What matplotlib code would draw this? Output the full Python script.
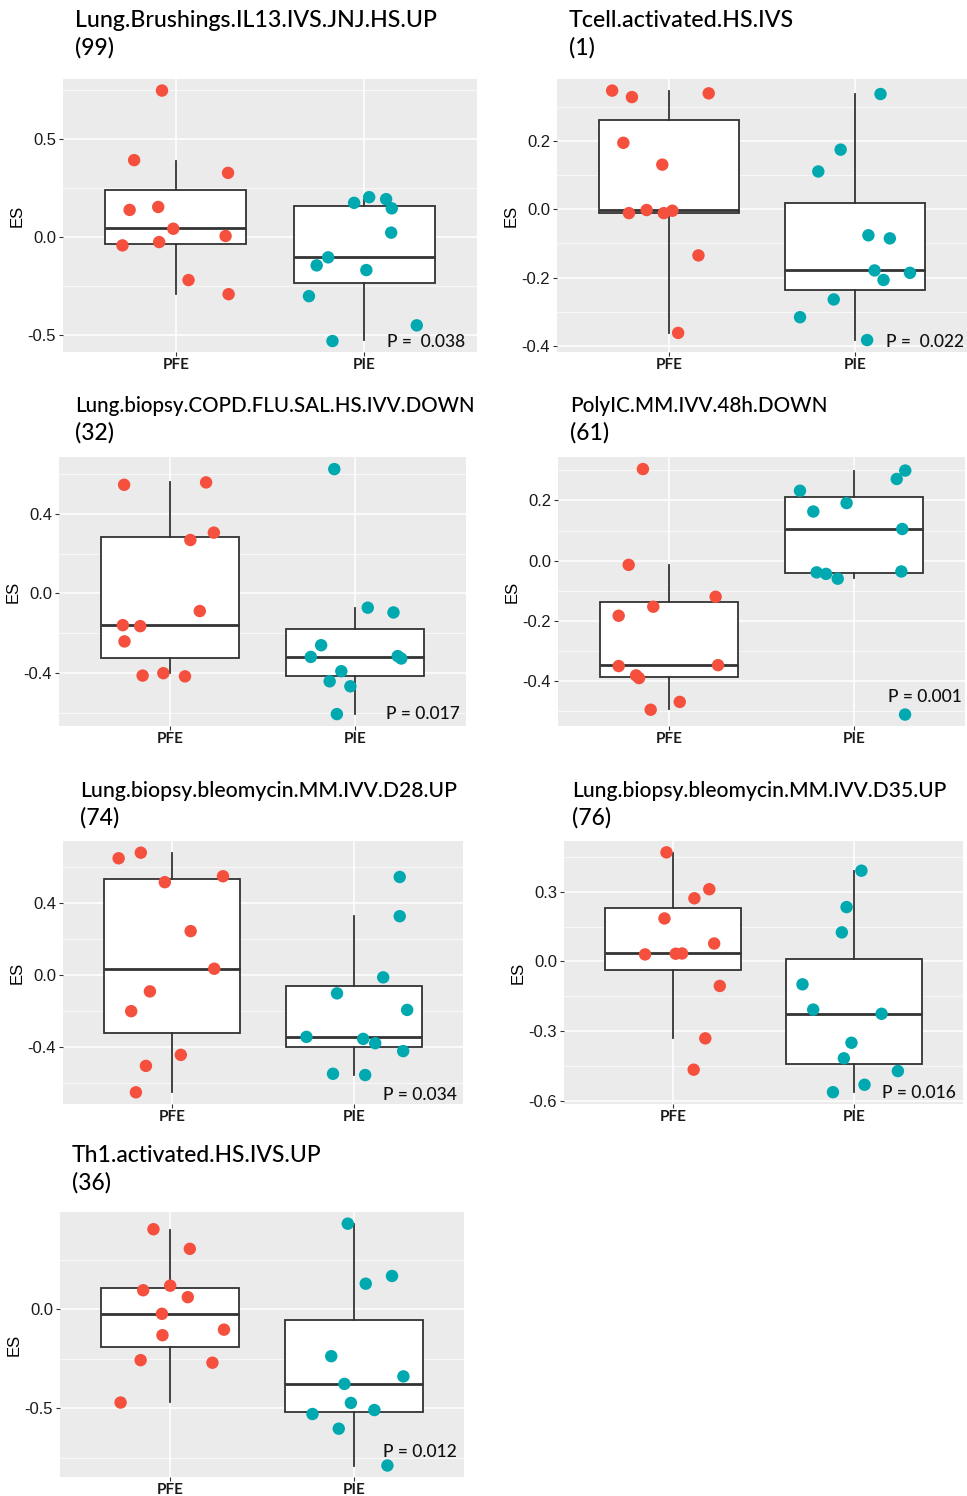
import numpy as np
import matplotlib
matplotlib.use('Agg')
import matplotlib.pyplot as plt

# 每個面板的資料
titles = ['Lung.Brushings.IL13.IVS.JNJ.HS.UP', 'Tcell.activated.HS.IVS',
          'Lung.biopsy.COPD.FLU.SAL.HS.IVV.DOWN', 'PolyIC.MM.IVV.48h.DOWN',
          'Lung.biopsy.bleomycin.MM.IVV.D28.UP', 'Lung.biopsy.bleomycin.MM.IVV.D35.UP',
          'Th1.activated.HS.IVS.UP']
sizes = [99, 1, 32, 61, 74, 76, 36]
p_text = ['P =  0.038', 'P =  0.022', 'P = 0.017', 'P = 0.001', 'P = 0.034', 'P = 0.016', 'P = 0.012']
groups = ['PFE', 'PIE']

pfe_es = [
    [0.749, 0.394, 0.329, 0.140, 0.155, 0.044, -0.041, -0.024, 0.007, -0.218, -0.290],
    [0.348, 0.329, 0.340, 0.195, 0.131, -0.011, -0.002, -0.011, -0.004, -0.135, -0.362],
    [0.547, 0.559, 0.306, 0.269, -0.089, -0.160, -0.165, -0.242, -0.414, -0.402, -0.418],
    [0.304, -0.014, -0.120, -0.153, -0.183, -0.350, -0.347, -0.381, -0.390, -0.469, -0.495],
    [0.649, 0.680, 0.516, 0.549, 0.244, 0.035, -0.091, -0.201, -0.444, -0.505, -0.652],
    [0.470, 0.311, 0.272, 0.185, 0.030, 0.033, 0.034, 0.077, -0.106, -0.332, -0.467],
    [0.405, 0.306, 0.120, 0.097, 0.062, -0.022, -0.130, -0.102, -0.256, -0.269, -0.470],
]
pfe_jit = [
    [-0.074, -0.222, 0.277, -0.246, -0.094, -0.014, -0.284, -0.089, 0.264, 0.067, 0.280],
    [-0.304, -0.198, 0.214, -0.244, -0.035, -0.214, -0.119, -0.027, 0.019, 0.159, 0.050],
    [-0.248, 0.195, 0.237, 0.110, 0.161, -0.255, -0.161, -0.246, -0.148, -0.036, 0.081],
    [-0.141, -0.218, 0.252, -0.085, -0.272, -0.272, 0.265, -0.178, -0.162, 0.058, -0.099],
    [-0.294, -0.172, -0.040, 0.280, 0.102, 0.232, -0.122, -0.225, 0.048, -0.144, -0.199],
    [-0.035, 0.201, 0.119, -0.046, -0.153, 0.016, 0.051, 0.228, 0.259, 0.179, 0.115],
    [-0.091, 0.107, 0.000, -0.147, 0.096, -0.045, -0.042, 0.293, -0.161, 0.230, -0.270],
]
pie_es = [
    [0.176, 0.205, 0.195, 0.148, 0.024, -0.102, -0.143, -0.167, -0.300, -0.449, -0.529],
    [0.338, 0.175, 0.111, -0.076, -0.085, -0.179, -0.207, -0.186, -0.264, -0.316, -0.383],
    [0.626, -0.072, -0.096, -0.261, -0.320, -0.316, -0.328, -0.392, -0.443, -0.468, -0.608],
    [0.299, 0.271, 0.232, 0.163, 0.191, 0.105, -0.039, -0.044, -0.060, -0.036, -0.511],
    [0.545, 0.327, -0.013, -0.102, -0.194, -0.344, -0.355, -0.379, -0.423, -0.549, -0.556],
    [0.391, 0.234, 0.125, -0.099, -0.208, -0.226, -0.351, -0.418, -0.473, -0.532, -0.564],
    [0.433, 0.130, 0.169, -0.236, -0.338, -0.376, -0.472, -0.508, -0.528, -0.602, -0.788],
]
pie_jit = [
    [-0.053, 0.027, 0.117, 0.147, 0.144, -0.191, -0.252, 0.012, -0.293, 0.280, -0.168],
    [0.136, -0.078, -0.198, 0.071, 0.186, 0.104, 0.152, 0.294, -0.115, -0.296, 0.064],
    [-0.112, 0.069, 0.208, -0.183, -0.239, 0.231, 0.250, -0.074, -0.137, -0.025, -0.098],
    [0.277, 0.231, -0.292, -0.220, -0.040, 0.261, -0.202, -0.151, -0.088, 0.256, 0.276],
    [0.252, 0.252, 0.161, -0.093, 0.293, -0.261, 0.051, 0.117, 0.271, -0.115, 0.062],
    [0.040, -0.042, -0.068, -0.285, -0.226, 0.151, -0.015, -0.057, 0.241, 0.057, -0.117],
    [-0.033, 0.065, 0.208, -0.123, 0.270, -0.051, -0.016, 0.112, -0.225, -0.082, 0.183],
]
# 盒子: [下鬚, Q1, 中位數, Q3, 上鬚]
pfe_box = [
    [-0.287, -0.034, 0.046, 0.242, 0.390],
    [-0.362, -0.010, -0.001, 0.262, 0.347],
    [-0.400, -0.323, -0.160, 0.286, 0.559],
    [-0.494, -0.385, -0.347, -0.138, -0.014],
    [-0.652, -0.323, 0.035, 0.532, 0.680],
    [-0.331, -0.037, 0.036, 0.229, 0.468],
    [-0.467, -0.191, -0.022, 0.107, 0.403],
]
pie_box = [
    [-0.526, -0.232, -0.099, 0.162, 0.191],
    [-0.383, -0.235, -0.179, 0.019, 0.337],
    [-0.606, -0.418, -0.322, -0.180, -0.072],
    [-0.059, -0.042, 0.105, 0.210, 0.299],
    [-0.555, -0.401, -0.342, -0.059, 0.329],
    [-0.564, -0.444, -0.229, 0.011, 0.390],
    [-0.788, -0.517, -0.375, -0.054, 0.431],
]
yticks = [[-0.5, 0.0, 0.5], [-0.4, -0.2, 0.0, 0.2], [-0.4, 0.0, 0.4], [-0.4, -0.2, 0.0, 0.2],
          [-0.4, 0.0, 0.4], [-0.6, -0.3, 0.0, 0.3], [-0.5, 0.0]]
ylims = [(-0.585, 0.808), (-0.418, 0.382), (-0.668, 0.687), (-0.549, 0.344),
         (-0.717, 0.745), (-0.615, 0.519), (-0.846, 0.492)]

# 版面 (像素)
W, H = 967, 1496
ax_px = [(63, 79, 477, 352), (557, 79, 967, 352), (59, 457, 466, 726), (558, 457, 965, 726),
         (63, 841, 463, 1104), (564, 841, 963, 1104), (60, 1212, 464, 1477)]
title_px = [(75, 27), (569, 27), (75, 412), (570, 412), (80, 797), (572, 797), (72, 1162)]
title_w = [362, 224, 398, 257, 375, 374, 249]  # 標題寬度
p_pos = [(0.971, 0.018), (0.993, 0.019), (0.985, 0.026), (0.992, 0.089),
         (0.984, 0.016), (0.982, 0.023), (0.983, 0.077)]

red = '#F5503E'
teal = '#00A9B0'
line_c = '#333333'

fig = plt.figure(figsize=(W / 100, H / 100), dpi=100)
renderer = fig.canvas.get_renderer()

for i in range(7):
    x0, y0, x1, y1 = ax_px[i]
    ax = fig.add_axes([x0 / W, 1 - y1 / H, (x1 - x0) / W, (y1 - y0) / H])
    ax.set_facecolor('#EBEBEB')
    for s in ax.spines.values():
        s.set_visible(False)

    stats = []
    for b in (pfe_box[i], pie_box[i]):
        stats.append({'whislo': b[0], 'q1': b[1], 'med': b[2], 'q3': b[3], 'whishi': b[4], 'fliers': []})
    ax.bxp(stats, positions=[1, 2], widths=0.75, showcaps=False, showfliers=False,
           patch_artist=True,
           boxprops=dict(facecolor='white', edgecolor=line_c, linewidth=1.3),
           whiskerprops=dict(color=line_c, linewidth=1.3),
           medianprops=dict(color=line_c, linewidth=2.0), zorder=2)

    ax.scatter(1 + np.array(pfe_jit[i]), pfe_es[i], s=80, color=red, edgecolors='none', zorder=3)
    ax.scatter(2 + np.array(pie_jit[i]), pie_es[i], s=80, color=teal, edgecolors='none', zorder=3)

    yt = yticks[i]
    step = yt[1] - yt[0]
    ax.set_yticks(yt)
    ax.set_yticklabels(['%.1f' % v for v in yt], family='Liberation Sans', fontsize=12, color='#1a1a1a')
    minors = [yt[0] - step / 2] + [v + step / 2 for v in yt]
    ax.set_yticks(minors, minor=True)
    ax.tick_params(axis='y', which='minor', length=0)
    ax.set_xticks([1, 2])
    ax.set_xticklabels(groups, family='Lato', fontweight='bold', fontsize=11, color='#1a1a1a')
    ax.tick_params(axis='y', which='major', length=3, width=0.8, color=line_c, pad=2)
    ax.tick_params(axis='x', which='major', length=3, width=0.8, color=line_c, pad=1)
    # 範圍要在設定刻度之後
    ax.set_xlim(0.4, 2.6)
    ax.set_ylim(*ylims[i])
    ax.grid(True, which='major', color='white', linewidth=1.1, zorder=0)
    ax.grid(True, which='minor', axis='y', color='white', linewidth=0.5, zorder=0)
    ax.set_axisbelow(True)
    ax.set_ylabel('ES', family='Liberation Sans', fontsize=12, labelpad=2)

    ax.text(p_pos[i][0], p_pos[i][1], p_text[i], transform=ax.transAxes, ha='right', va='baseline',
            family='Lato', fontweight='medium', fontsize=12.5, color='#111111', zorder=4)

    tx, ty = title_px[i]
    t1 = fig.text(tx / W, 1 - ty / H, titles[i], family='Lato', fontweight='medium', fontsize=16.5,
                  ha='left', va='baseline')
    w = t1.get_window_extent(renderer).width
    fs = min(16.5 * title_w[i] / w, 17.5)
    t1.set_fontsize(fs)
    fig.text(tx / W, 1 - (ty + 28) / H, '(%d)' % sizes[i], family='Lato', fontweight='medium',
             fontsize=16.5, ha='left', va='baseline')

fig.savefig('out.png', dpi=100)
